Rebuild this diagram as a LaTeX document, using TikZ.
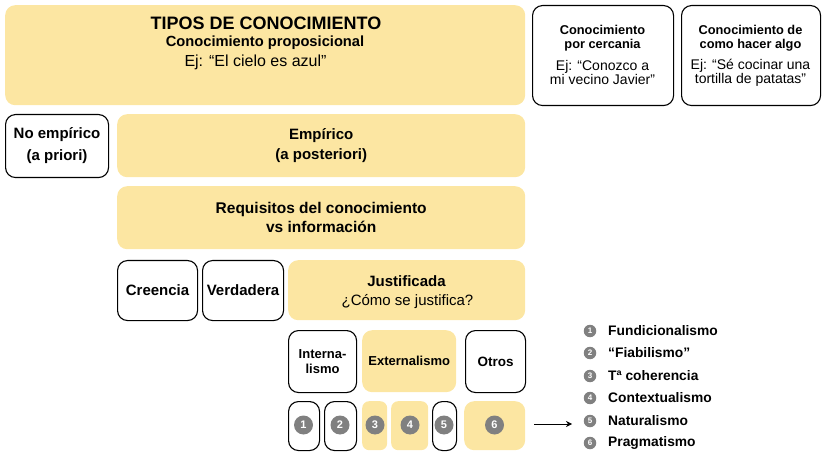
\documentclass[tikz,border=0pt]{standalone}
\usepackage{fontspec}
\setmainfont{Liberation Sans}
\usetikzlibrary{arrows.meta}
\definecolor{yel}{HTML}{FCE6A2}
\definecolor{dot}{HTML}{808080}
\begin{document}
\begin{tikzpicture}[x=1pt,y=-1pt,
  ybox/.style={fill=yel,draw=none,rounded corners=10pt,anchor=north west,inner sep=0pt},
  wbox/.style={fill=white,draw=black,line width=1.1pt,rounded corners=10pt,anchor=north west,inner sep=0pt},
  lbl/.style={font=\bfseries\fontsize{15}{18}\selectfont,align=center,inner sep=0pt},
  bigdot/.style={circle,fill=dot,text=white,minimum size=19pt,inner sep=0pt,font=\bfseries\fontsize{11}{11}\selectfont},
  smalldot/.style={circle,fill=dot,text=white,minimum size=12.5pt,inner sep=0pt,font=\bfseries\fontsize{8}{8}\selectfont},
  leg/.style={anchor=west,inner sep=0pt,font=\bfseries\fontsize{13.8}{13.8}\selectfont}]
\useasboundingbox (0,0) rectangle (825,457);
% top row
\node[ybox,minimum width=520pt,minimum height=100pt] (top) at (5,5) {};
\node[inner sep=0pt,font=\bfseries\fontsize{18}{18}\selectfont] (t1) at (266,23) {TIPOS DE CONOCIMIENTO};
\node[inner sep=0pt,font=\bfseries\fontsize{14.7}{14.7}\selectfont] (t2) at (265,43) {Conocimiento proposicional};
\node[inner sep=0pt,font=\fontsize{16}{16}\selectfont] (t3) at (255.5,62) {Ej: “El cielo es azul”};
\node[wbox,minimum width=141pt,minimum height=100pt] (cerc) at (532,5) {};
\node[inner sep=0pt,align=center,font=\bfseries\fontsize{12.8}{14}\selectfont] (c1) at (602.5,38) {Conocimiento\\por cercania};
\node[inner sep=0pt,align=center,font=\fontsize{14}{14}\selectfont] (c2) at (602.5,72.5) {Ej: “Conozco a\\mi vecino Javier”};
\node[wbox,minimum width=139pt,minimum height=100pt] (hacer) at (681,5) {};
\node[inner sep=0pt,align=center,font=\bfseries\fontsize{12.8}{14}\selectfont] (h1) at (750.5,38) {Conocimiento de\\como hacer algo};
\node[inner sep=0pt,align=center,font=\fontsize{14}{14}\selectfont] (h2) at (750.5,72.5) {Ej: “Sé cocinar una\\tortilla de patatas”};
% second row
\node[wbox,minimum width=103pt,minimum height=63pt] (noemp) at (5,114) {};
\node[lbl,font=\bfseries\fontsize{15}{22}\selectfont] at (noemp.center) {No empírico\\(a priori)};
\node[ybox,minimum width=408pt,minimum height=63pt] (emp) at (117,114) {};
\node[lbl,font=\bfseries\fontsize{15}{20}\selectfont] at (emp.center) {Empírico\\(a posteriori)};
% third row
\node[ybox,minimum width=408pt,minimum height=63pt] (req) at (117,186) {};
\node[lbl,font=\bfseries\fontsize{15.5}{19}\selectfont] at (req.center) {Requisitos del conocimiento\\vs información};
% fourth row
\node[wbox,minimum width=80pt,minimum height=60pt] (cre) at (117,260) {};
\node[lbl] at (cre.center) {Creencia};
\node[wbox,minimum width=81pt,minimum height=60pt] (ver) at (202,260) {};
\node[lbl] at (ver.center) {Verdadera};
\node[ybox,minimum width=237pt,minimum height=60pt] (jus) at (288,260) {};
\node[lbl] (j1) at (406.5,281) {Justificada};
\node[inner sep=0pt,font=\fontsize{15}{15}\selectfont] (j2) at (407.5,302) {¿Cómo se justifica?};
% fifth row
\node[wbox,minimum width=68pt,minimum height=62pt] (int) at (288,330) {};
\node[lbl,font=\bfseries\fontsize{13}{15.5}\selectfont] at (int.center) {Interna-\\lismo};
\node[ybox,minimum width=94pt,minimum height=62pt] (ext) at (362,330) {};
\node[lbl,font=\bfseries\fontsize{13}{15}\selectfont] at (ext.center) {Externalismo};
\node[wbox,minimum width=60pt,minimum height=62pt] (otr) at (465,330) {};
\node[lbl,font=\bfseries\fontsize{13.5}{15}\selectfont] at (otr.center) {Otros};
% sixth row
\node[wbox,minimum width=31pt,minimum height=49pt] (b1) at (288,401) {};
\node[wbox,minimum width=32pt,minimum height=49pt] (b2) at (324,401) {};
\node[ybox,minimum width=25pt,minimum height=49pt,rounded corners=7pt] (b3) at (362,401) {};
\node[ybox,minimum width=37pt,minimum height=49pt,rounded corners=7pt] (b4) at (391,401) {};
\node[wbox,minimum width=24pt,minimum height=49pt] (b5) at (432,401) {};
\node[ybox,minimum width=61pt,minimum height=49pt] (b6) at (464,401) {};
\node[bigdot] (d1) at (303.5,425) {1};
\node[bigdot] (d2) at (340,425) {2};
\node[bigdot] (d3) at (375,425) {3};
\node[bigdot] (d4) at (410,425) {4};
\node[bigdot] (d5) at (444,425) {5};
\node[bigdot] (d6) at (494.5,425) {6};
% arrow
\coordinate (as) at (534,424);
\coordinate (ae) at (572,424);
\draw[line width=0.8pt,-{Stealth[length=6pt,width=6pt]}] (as) -- (ae);
% legend
\node[smalldot] (l1) at (590,331) {1};
\node[leg] at (608,331) {Fundicionalismo};
\node[smalldot] (l2) at (590,353) {2};
\node[leg] at (608,353) {“Fiabilismo”};
\node[smalldot] (l3) at (590,376) {3};
\node[leg] at (608,376) {Tª coherencia};
\node[smalldot] (l4) at (590,398) {4};
\node[leg] at (608,398) {Contextualismo};
\node[smalldot] (l5) at (590,421) {5};
\node[leg] at (608,421) {Naturalismo};
\node[smalldot] (l6) at (590,443) {6};
\node[leg] at (608,443) {Pragmatismo};
\end{tikzpicture}
\end{document}
